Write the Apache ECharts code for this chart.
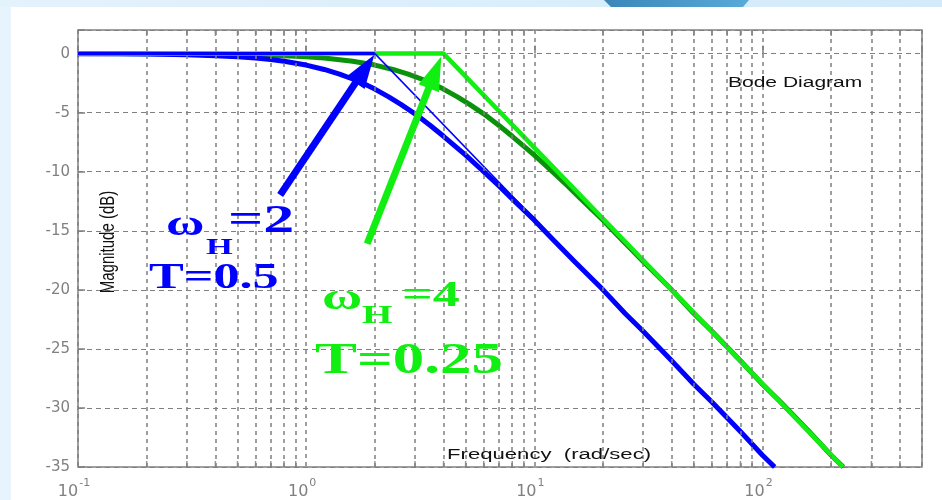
<!DOCTYPE html>
<html><head><meta charset="utf-8">
<script src="https://cdn.jsdelivr.net/npm/echarts@6/dist/echarts.min.js"></script>
<style>html,body{margin:0;padding:0;background:#fff;}#c{width:942px;height:500px;}</style>
</head><body><div id="c"></div>
<script>
// actual magnitude curve, T = 0.5 (blue)
const freqBlue = [0.1, 0.15, 0.2, 0.3, 0.4, 0.5, 0.6, 0.7, 0.8, 1, 1.2, 1.4, 1.6, 1.8, 2, 2.3, 2.6, 3, 3.5, 4, 5, 6, 7, 8, 10, 12, 15, 20, 25, 30, 40, 50, 60, 80, 100, 113];
const magBlue  = [-0.01, -0.02, -0.04, -0.1, -0.17, -0.26, -0.37, -0.5, -0.64, -0.97, -1.34, -1.73, -2.15, -2.58, -3.0, -3.66, -4.3, -5.1, -6.09, -7.0, -8.6, -10.0, -11.2, -12.3, -14.1, -15.7, -17.6, -20.0, -22.0, -23.5, -26.0, -28.0, -29.5, -32.0, -34.0, -35.0];
// actual magnitude curve, T = 0.25 (dark green)
const freqGreen = [0.1, 0.2, 0.3, 0.4, 0.6, 0.8, 1, 1.2, 1.6, 2, 2.4, 2.8, 3.2, 3.6, 4, 4.6, 5.2, 6, 7, 8, 10, 12, 14, 16, 20, 24, 30, 40, 50, 60, 80, 100, 120, 160, 200, 226];
const magGreen  = [0.0, -0.01, -0.02, -0.04, -0.1, -0.17, -0.26, -0.37, -0.64, -0.97, -1.34, -1.73, -2.15, -2.58, -3.0, -3.66, -4.3, -5.1, -6.09, -7.0, -8.6, -10.0, -11.2, -12.3, -14.1, -15.7, -17.6, -20.0, -22.0, -23.5, -26.0, -28.0, -29.5, -32.0, -34.0, -35.0];
// asymptotes
const blueFlatFreq = [0.1, 2];
const blueFlatMag = [0, 0];
const blueSlopeFreq = [2, 112];
const blueSlopeMag = [0, -35];
const greenAsymFreq = [0.1, 4, 225];
const greenAsymMag = [0, 0, -35];
// minor vertical grid positions
const minorGridFreqs = [0.2,0.3,0.4,0.5,0.6,0.7,0.8,0.9, 2,3,4,5,6,7,8,9, 20,30,40,50,60,70,80,90, 200,300,400];
// annotation arrows (tail, head)
const blueArrowFreq = [0.769, 1.809];
const blueArrowMag = [-11.97, -1.28];
const greenArrowFreq = [1.851, 3.67];
const greenArrowMag = [-16.1, -1.59];
// axis tick settings
const xTickExponents = [-1, 0, 1, 2];
const yMin = -35, yMax = 2, yStep = 5;

const zip = (xs, ys) => xs.map((x, i) => [x, ys[i]]);
const BLUE = '#0000ff', GREEN = '#11ee11', DKGREEN = '#0a920a', GRAY = '#808080';

const chart = echarts.init(document.getElementById('c'));
const serif = 'Liberation Serif, Times New Roman, serif';
const sans = 'Liberation Sans, Arial, sans-serif';

function t(text, x, y, size, color, scaleX, font, weight) {
  return { type: 'text', x: x, y: y, z: 100, scaleX: scaleX, silent: true,
    style: { text: text, fill: color, font: (weight || 'bold') + ' ' + size + 'px ' + (font || serif), textAlign: 'left', textVerticalAlign: 'middle' } };
}

chart.setOption({
  animation: false,
  backgroundColor: '#ffffff',
  grid: { left: 78, right: 20, top: 30, bottom: 31, show: true, borderColor: GRAY, borderWidth: 1.5, backgroundColor: 'transparent' },
  xAxis: {
    type: 'log', logBase: 10, min: 0.1, max: 500,
    axisLine: { show: false },
    axisTick: { show: true, inside: true, length: 8, lineStyle: { color: GRAY, width: 1.5 } },
    splitLine: { show: true, lineStyle: { color: GRAY, width: 1.5, type: [4, 4] } },
    axisLabel: {
      margin: 5,
      formatter: function (v) {
        const e = Math.round(Math.log10(v));
        if (Math.abs(v - Math.pow(10, e)) > 1e-6 * v || xTickExponents.indexOf(e) < 0) return '';
        return '{b|10}{e|' + e + '}';
      },
      rich: {
        b: { fontSize: 16, fontFamily: 'DejaVu Sans', color: GRAY, lineHeight: 28, verticalAlign: 'bottom' },
        e: { fontSize: 11, fontFamily: 'DejaVu Sans', color: GRAY, lineHeight: 12, verticalAlign: 'top', padding: [6, 8, 0, 1] }
      }
    }
  },
  yAxis: {
    type: 'value', min: yMin, max: yMax, interval: yStep,
    axisLine: { show: false },
    axisTick: { show: true, inside: true, length: 7, lineStyle: { color: GRAY, width: 1.5 } },
    splitLine: { show: true, lineStyle: { color: GRAY, width: 1.2, type: [5, 4] } },
    axisLabel: {
      margin: 8, color: GRAY, fontSize: 15, fontFamily: 'DejaVu Sans',
      formatter: function (v) { return v > 0 ? '' : String(v); }
    }
  },
  series: [
    { type: 'line', data: [], z: 1, silent: true,
      markLine: { silent: true, symbol: ['none', 'none'], animation: false, label: { show: false },
        lineStyle: { color: GRAY, width: 1.5, type: [4, 4] },
        emphasis: { disabled: true },
        data: minorGridFreqs.map(f => ({ xAxis: f })) } },
    { type: 'scatter', silent: true, z: 1, symbol: 'rect', symbolSize: [1.5, 6], symbolOffset: [0, 3],
      itemStyle: { color: GRAY }, data: minorGridFreqs.map(f => [f, yMax]) },
    { type: 'scatter', silent: true, z: 1, symbol: 'rect', symbolSize: [1.5, 6], symbolOffset: [0, -3],
      itemStyle: { color: GRAY }, data: minorGridFreqs.map(f => [f, yMin]) },
    { name: 'T=0.25 actual', type: 'line', z: 3, showSymbol: false, smooth: false,
      lineStyle: { color: DKGREEN, width: 5, join: 'round' }, data: zip(freqGreen, magGreen) },
    { name: 'T=0.5 actual', type: 'line', z: 3, showSymbol: false, smooth: false,
      lineStyle: { color: BLUE, width: 5, join: 'round' }, data: zip(freqBlue, magBlue) },
    { name: 'T=0.25 asymptote', type: 'line', z: 4, showSymbol: false,
      lineStyle: { color: GREEN, width: 4.5 }, data: zip(greenAsymFreq, greenAsymMag) },
    { name: 'T=0.5 asymptote flat', type: 'line', z: 4, showSymbol: false,
      lineStyle: { color: BLUE, width: 3 }, data: zip(blueFlatFreq, blueFlatMag) },
    { name: 'T=0.5 asymptote slope', type: 'line', z: 4, showSymbol: false,
      lineStyle: { color: BLUE, width: 1.5 }, data: zip(blueSlopeFreq, blueSlopeMag) },
    { type: 'line', data: [], z: 5, silent: true,
      markLine: { silent: true, animation: false, symbol: ['none', 'triangle'], symbolSize: [22, 34],
        label: { show: false }, lineStyle: { color: BLUE, width: 7, type: 'solid' }, emphasis: { disabled: true },
        data: [[{ coord: [blueArrowFreq[0], blueArrowMag[0]] }, { coord: [blueArrowFreq[1], blueArrowMag[1]] }]] } },
    { type: 'line', data: [], z: 5, silent: true,
      markLine: { silent: true, animation: false, symbol: ['none', 'triangle'], symbolSize: [22, 34],
        label: { show: false }, lineStyle: { color: GREEN, width: 7, type: 'solid' }, emphasis: { disabled: true },
        data: [[{ coord: [greenArrowFreq[0], greenArrowMag[0]] }, { coord: [greenArrowFreq[1], greenArrowMag[1]] }]] } }
  ],
  graphic: [
    { type: 'rect', z: -10, silent: true, shape: { x: 0, y: 0, width: 11, height: 500 }, style: { fill: '#e8f4fd' } },
    { type: 'rect', z: -10, silent: true, shape: { x: 0, y: 0, width: 942, height: 7 },
      style: { fill: new echarts.graphic.LinearGradient(0, 0, 1, 0, [{ offset: 0, color: '#e4f2fc' }, { offset: 1, color: '#d2eafa' }]) } },
    { type: 'polygon', z: -9, silent: true, shape: { points: [[604, 0], [749, 0], [743, 7], [611, 7]] },
      style: { fill: new echarts.graphic.LinearGradient(0, 0, 1, 0, [{ offset: 0, color: '#3b86b9' }, { offset: 1, color: '#58aad9' }]) } },
    // axis / title texts
    t('Bode Diagram', 728, 83, 14, '#111', 1.5, sans, 'normal'),
    t('Frequency  (rad/sec)', 447, 455, 14, '#111', 1.58, sans, 'normal'),
    { type: 'text', x: 108, y: 242, z: 100, rotation: Math.PI / 2, scaleY: 1.4, silent: true,
      style: { text: 'Magnitude (dB)', fill: '#111', font: '15px ' + sans, textAlign: 'center', textVerticalAlign: 'middle' } },
    // blue annotation
    t('ω', 166, 226, 35, BLUE, 1.5),
    t('H', 206, 248, 23, BLUE, 1.5),
    t('=2', 228, 222, 40, BLUE, 1.55),
    t('T=0.5', 149, 279, 35, BLUE, 1.49),
    // green annotation
    t('ω', 322, 299, 38, GREEN, 1.45),
    t('H', 362, 316, 26, GREEN, 1.5),
    t('=4', 402, 297, 36, GREEN, 1.5),
    t('T=0.25', 315, 362, 44, GREEN, 1.43)
  ]
});
</script>
</body></html>
